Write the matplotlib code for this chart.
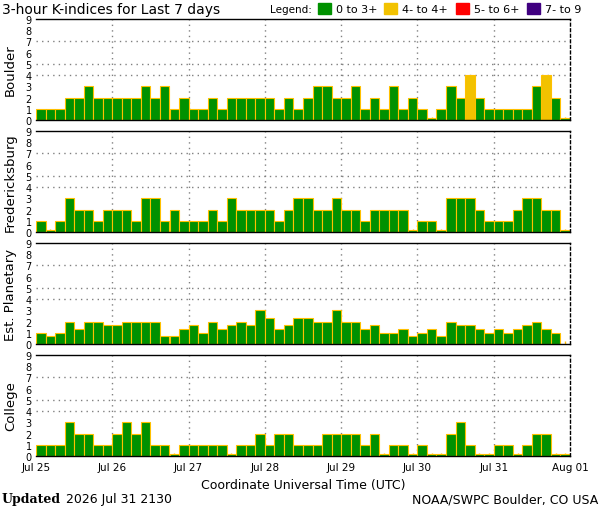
import numpy as np
import matplotlib
matplotlib.use('Agg')
import matplotlib.pyplot as plt

# K-index values, 8 per day (3-hour slots), Jul 25 - Jul 31
boulder = [1, 1, 1, 2, 2, 3, 2, 2,
           2, 2, 2, 3, 2, 3, 1, 2,
           1, 1, 2, 1, 2, 2, 2, 2,
           2, 1, 2, 1, 2, 3, 3, 2,
           2, 3, 1, 2, 1, 3, 1, 2,
           1, 0, 1, 3, 2, 4, 2, 1,
           1, 1, 1, 1, 3, 4, 2, 0]

fredericksburg = [1, 0, 1, 3, 2, 2, 1, 2,
                  2, 2, 1, 3, 3, 1, 2, 1,
                  1, 1, 2, 1, 3, 2, 2, 2,
                  2, 1, 2, 3, 3, 2, 2, 3,
                  2, 2, 1, 2, 2, 2, 2, 0,
                  1, 1, 0, 3, 3, 3, 2, 1,
                  1, 1, 2, 3, 3, 2, 2, 0]

est_planetary = [1, 0.67, 1, 2, 1.33, 2, 2, 1.67,
                 1.67, 2, 2, 2, 2, 0.67, 0.67, 1.33,
                 1.67, 1, 2, 1.33, 1.67, 2, 1.67, 3,
                 2.33, 1.33, 1.67, 2.33, 2.33, 2, 2, 3,
                 2, 2, 1.33, 1.67, 1, 1, 1.33, 0.67,
                 1, 1.33, 0.67, 2, 1.67, 1.67, 1.33, 1,
                 1.33, 1, 1.33, 1.67, 2, 1.33, 1, np.nan]

college = [1, 1, 1, 3, 2, 2, 1, 1,
           2, 3, 2, 3, 1, 1, 0, 1,
           1, 1, 1, 1, 0, 1, 1, 2,
           1, 2, 2, 1, 1, 1, 2, 2,
           2, 2, 1, 2, 0, 1, 1, 0,
           1, 0, 0, 2, 3, 1, 0, 0,
           1, 1, 0, 1, 2, 2, 0, 0]

station_names = ['Boulder', 'Fredericksburg', 'Est. Planetary', 'College']
day_labels = ['Jul 25', 'Jul 26', 'Jul 27', 'Jul 28', 'Jul 29', 'Jul 30', 'Jul 31', 'Aug 01']
legend_labels = ['0 to 3+', '4- to 4+', '5- to 6+', '7- to 9']

GREEN = '#009100'
YELLOW = '#f2c200'
RED = '#ff0000'
PURPLE = '#400080'
EDGE = '#ffc000'
GRID = '#808080'


def bar_color(k):
    if k < 4:
        return GREEN
    if k < 5:
        return YELLOW
    if k < 7:
        return RED
    return PURPLE


fig = plt.figure(figsize=(6, 5.1), dpi=100)

W, H = 600.0, 510.0
left, right = 36, 570
panel_tops = [20, 132, 244, 356]
panel_h = 101

all_data = [boulder, fredericksburg, est_planetary, college]

for n, (name, values) in enumerate(zip(station_names, all_data)):
    top = panel_tops[n]
    ax = fig.add_axes([left / W, 1 - (top + panel_h) / H, (right - left) / W, panel_h / H])

    vals = np.array(values, dtype=float)
    slots = np.arange(len(vals))
    ok = ~np.isnan(vals)
    # zero values still get a sliver so they show up
    heights = np.where(vals[ok] == 0, 0.15, vals[ok])
    colors = [bar_color(v) for v in vals[ok]]
    ax.bar(slots[ok] + 0.5, heights, width=1.0, color=colors, edgecolor=EDGE,
           linewidth=0.8, zorder=2)

    # dotted day lines and the 4/5/7 levels
    for d in range(8, 56, 8):
        ax.axvline(d, color=GRID, linestyle=(0, (1, 3)), linewidth=1, zorder=1)
    for lev in [4, 5, 7]:
        ax.axhline(lev, color=GRID, linestyle=(0, (1, 3)), linewidth=1, zorder=1)

    ax.set_xlim(0, 56)
    ax.set_ylim(0, 9)
    ax.set_yticks(range(10))
    ax.tick_params(axis='y', length=0, labelsize=7, pad=3)
    ax.set_xticks(range(0, 57, 8))
    ax.set_xticks(slots + 0.5, minor=True)
    ax.tick_params(axis='x', which='major', length=0, labelsize=7.5, pad=4)
    ax.tick_params(axis='x', which='minor', direction='in', length=2.5,
                   width=1, color=EDGE)
    if n == 3:
        ax.set_xticklabels(day_labels)
    else:
        ax.set_xticklabels([])

    ax.set_ylabel(name, fontsize=9.5, labelpad=6)
    ax.spines['left'].set_visible(False)
    ax.spines['right'].set_linestyle((0, (2, 2)))
    for s in ['top', 'bottom', 'right']:
        ax.spines[s].set_linewidth(1)

# title and legend
fig.text(2 / W, 1 - 10 / H, '3-hour K-indices for Last 7 days', fontsize=10, va='center', ha='left')
fig.text(270 / W, 1 - 10 / H, 'Legend:', fontsize=7.5, va='center', ha='left')
legend_colors = [GREEN, YELLOW, RED, PURPLE]
box_x = [318, 384, 456, 527]
for bx, c, lab in zip(box_x, legend_colors, legend_labels):
    fig.patches.append(plt.Rectangle((bx / W, 1 - 15 / H), 13 / W, 11 / H,
                                     transform=fig.transFigure, color=c))
    fig.text((bx + 18) / W, 1 - 10 / H, lab, fontsize=8, va='center', ha='left')

# axis title and footer
fig.text(303 / W, 1 - 486 / H, 'Coordinate Universal Time (UTC)', fontsize=9, ha='center', va='center')
fig.text(2 / W, 1 - 500 / H, 'Updated', fontsize=9, fontweight='bold', family='DejaVu Serif',
         ha='left', va='center')
fig.text(66 / W, 1 - 500 / H, '2026 Jul 31 2130', fontsize=9, ha='left', va='center')
fig.text(598 / W, 1 - 500 / H, 'NOAA/SWPC Boulder, CO USA', fontsize=9, ha='right', va='center')

fig.savefig('out.png', dpi=100)
